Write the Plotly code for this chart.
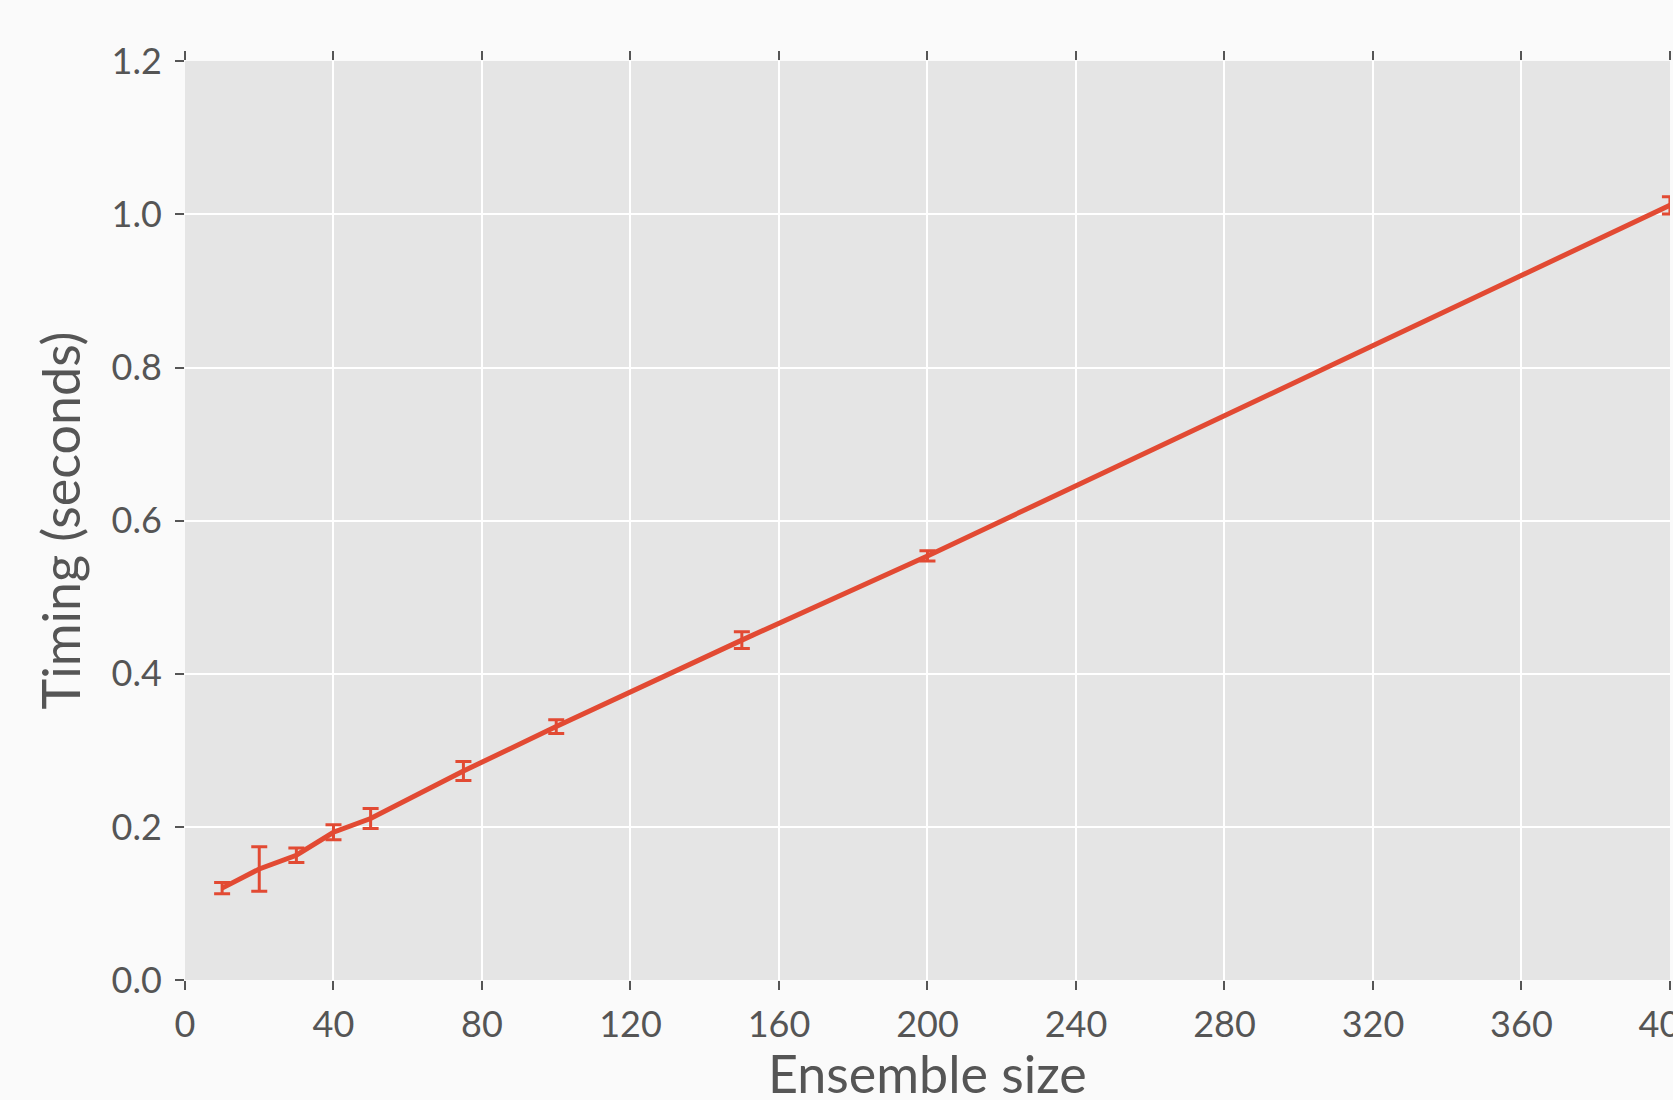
import plotly.graph_objects as go

ensemble_size = [10, 20, 30, 40, 50, 75, 100, 150, 200, 400]
timing_mean = [0.120, 0.145, 0.163, 0.193, 0.211, 0.273, 0.331, 0.444, 0.554, 1.012]
timing_err = [0.0074, 0.029, 0.0095, 0.0098, 0.013, 0.0124, 0.0091, 0.0109, 0.0067, 0.0113]

x_ticks = [0, 40, 80, 120, 160, 200, 240, 280, 320, 360, 400]
y_ticks = [0.0, 0.2, 0.4, 0.6, 0.8, 1.0, 1.2]
y_tick_labels = ["0.0", "0.2", "0.4", "0.6", "0.8", "1.0", "1.2"]

red = "#E24A33"
font_family = "Lato, 'Open Sans', sans-serif"

fig = go.Figure()
fig.add_trace(go.Scatter(
    x=ensemble_size, y=timing_mean,
    mode="lines",
    line=dict(color=red, width=5),
    error_y=dict(type="data", array=timing_err, visible=True,
                 color=red, thickness=3, width=8),
    showlegend=False,
))

axis_common = dict(
    showgrid=True, gridcolor="white", gridwidth=1.5,
    zeroline=False, showline=False,
    ticks="outside", ticklen=9, tickwidth=1.5, tickcolor="#555555",
    automargin=False,
    tickfont=dict(family=font_family, size=36, color="#555555"),
    title_font=dict(family=font_family, size=52, color="#555555"),
)

fig.update_layout(
    width=1673, height=1100,
    margin=dict(l=185, r=3, t=61, b=120),
    paper_bgcolor="#FAFAFA",
    plot_bgcolor="#E5E5E5",
    xaxis=dict(range=[0, 400.02], tickvals=x_ticks, ticktext=[str(v) for v in x_ticks],
               ticklabeloverflow="allow", ticklabelstandoff=4, mirror="ticks",
               **axis_common),
    yaxis=dict(range=[0, 1.2005], tickvals=y_ticks, ticktext=y_tick_labels,
               ticklabeloverflow="allow", ticklabelstandoff=6, mirror=False,
               title=dict(text="Timing (seconds)", standoff=14), **axis_common),
    annotations=[dict(
        text="Ensemble size", xref="paper", yref="paper", x=0.5, y=-0.101,
        xanchor="center", yanchor="middle", showarrow=False,
        font=dict(family=font_family, size=52, color="#555555"),
    )],
)

fig.write_html("out.html", config={"displayModeBar": False},
               post_script="document.body.style.margin='0';document.body.style.overflow='hidden';")
